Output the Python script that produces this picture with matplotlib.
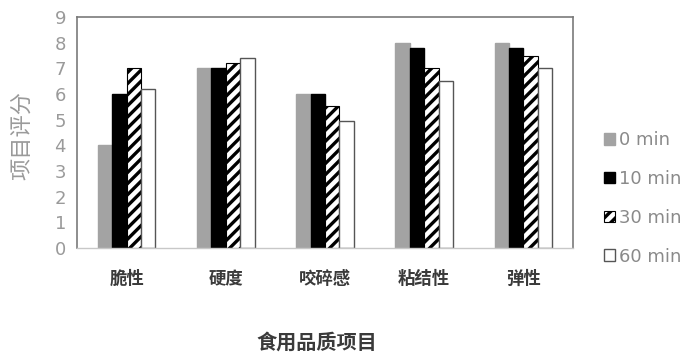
import matplotlib
matplotlib.use("Agg")
import matplotlib.pyplot as plt
import numpy as np

categories = ["脆性", "硬度", "咬碎感", "粘结性", "弹性"]
series_names = ["0 min", "10 min", "30 min", "60 min"]
v0 = [4.0, 7.0, 6.0, 8.0, 8.0]
v10 = [6.0, 7.0, 6.0, 7.8, 7.8]
v30 = [7.0, 7.2, 5.55, 7.0, 7.5]
v60 = [6.2, 7.4, 4.95, 6.5, 7.0]
yticks = list(range(0, 10))

plt.rcParams['font.family'] = ['Noto Sans CJK SC', 'DejaVu Sans']
plt.rcParams['hatch.linewidth'] = 2.4
plt.rcParams['hatch.color'] = 'black'

fig = plt.figure(figsize=(6.93, 3.56), dpi=100)
ax = fig.add_axes([77/693, 1-248/356, (573-77)/693, (248-17)/356])

x = np.arange(len(categories))
w = 0.145
styles = [
    dict(color='#a3a3a3', edgecolor='#a3a3a3'),
    dict(color='black', edgecolor='black'),
    dict(facecolor='white', edgecolor='black', hatch='///', linewidth=0.8),
    dict(facecolor='white', edgecolor='#555555', linewidth=1.0),
]
data = [v0, v10, v30, v60]
handles = []
for i, (vals, st) in enumerate(zip(data, styles)):
    b = ax.bar(x + (i - 1.5) * w, vals, w, label=series_names[i], **st)
    handles.append(b)

ax.set_xlim(-0.5, len(categories) - 0.5)
ax.set_ylim(0, 9)
ax.set_yticks(yticks)
ax.set_yticklabels([str(t) for t in yticks], color='#9a9a9a', fontsize=13, family='DejaVu Sans')
ax.set_xticks(x)
ax.set_xticklabels(categories, fontsize=12.5, color='#3a3a3a', fontweight='bold')
ax.tick_params(axis='both', length=0)
ax.tick_params(axis='y', pad=8)
ax.tick_params(axis='x', pad=16)
for s in ['left', 'top', 'right']:
    ax.spines[s].set_color('#7a7a7a')
    ax.spines[s].set_linewidth(1.2)
ax.spines['bottom'].set_color('#c8c8c8')
ax.spines['bottom'].set_linewidth(1.0)

fig.text(22/693, 1-135/356, "项目评分", rotation=90, ha='center', va='center',
         fontsize=16, color='#9a9a9a')
fig.text(317/693, 1-342/356, "食用品质项目", ha='center', va='center',
         fontsize=14.5, color='#3a3a3a', fontweight='bold')

leg = fig.legend(handles=handles, labels=series_names, loc='upper left',
                 bbox_to_anchor=(597/693, 1-124/356), frameon=False,
                 handlelength=0.6, handleheight=0.6, handletextpad=0.2,
                 labelspacing=1.15, borderaxespad=0,
                 prop={'family': 'DejaVu Sans', 'size': 13})
for t in leg.get_texts():
    t.set_color('#8a8a8a')

fig.savefig("out.png", dpi=100)
